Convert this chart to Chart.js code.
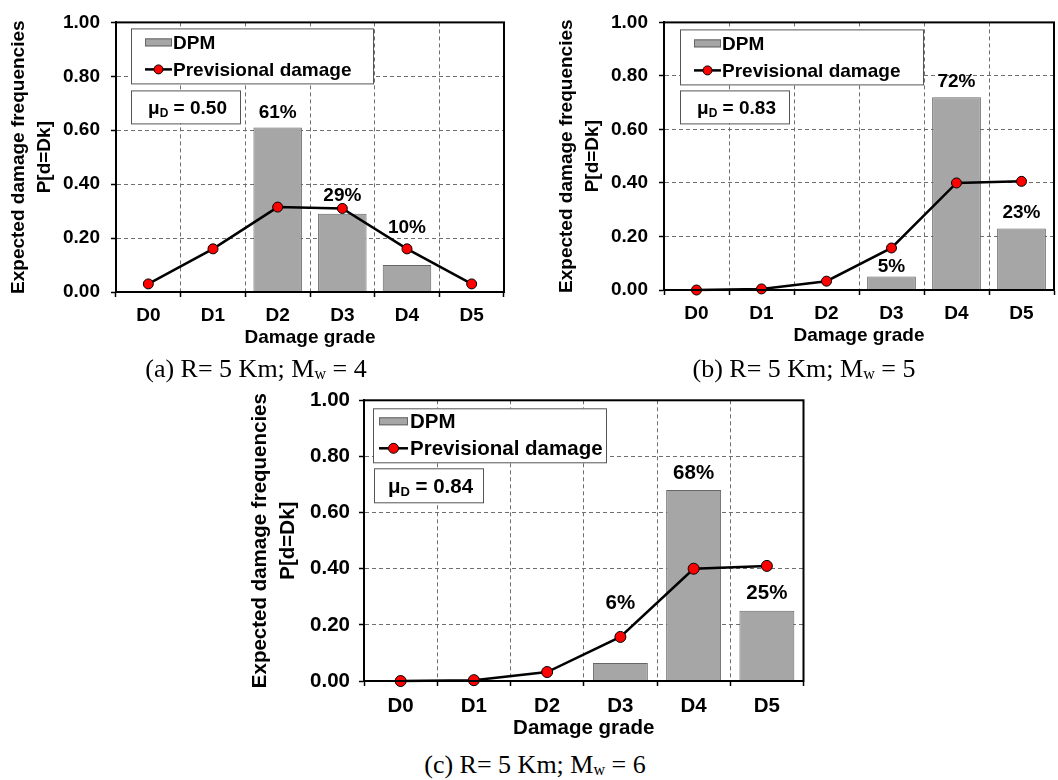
<!DOCTYPE html>
<html lang="en">
<head>
<meta charset="utf-8">
<title>Expected damage frequencies</title>
<script src="https://cdn.jsdelivr.net/npm/chart.js@4.4.1/dist/chart.umd.min.js"></script>
<style>
    html, body { margin: 0; padding: 0; background: #fff; }
    body { position: relative; width: 1058px; height: 780px; overflow: hidden; }
    canvas { position: absolute; }
    .caption {
        position: absolute;
        font-family: "Liberation Serif", "Times New Roman", serif;
        font-size: 26px;
        color: #000;
        white-space: nowrap;
        transform: translate(-50%, -50%);
    }
    .caption sub { font-size: 0.62em; vertical-align: -0.12em; line-height: 0; }
</style>
</head>
<body>
<canvas id="chartA" width="510" height="352" style="left:0;top:0"></canvas>
<canvas id="chartB" width="512" height="350" style="left:548px;top:0"></canvas>
<canvas id="chartC" width="570" height="365" style="left:240px;top:379px"></canvas>
<div class="caption" style="left:256px;top:369px">(a) R= 5 Km; M<sub>w</sub> = 4</div>
<div class="caption" style="left:804px;top:369px">(b) R= 5 Km; M<sub>w</sub> = 5</div>
<div class="caption" style="left:535px;top:765px">(c) R= 5 Km; M<sub>w</sub> = 6</div>

<script>
// ---- data ----
const grades = ['D0', 'D1', 'D2', 'D3', 'D4', 'D5'];
const yTickValues = [0.0, 0.2, 0.4, 0.6, 0.8, 1.0];

// (a) R = 5 km, Mw = 4
const dpmA = [null, null, 0.61, 0.29, 0.10, null];
const previsionalA = [0.03, 0.16, 0.315, 0.31, 0.16, 0.03];
const muA = 0.50;

// (b) R = 5 km, Mw = 5
const dpmB = [null, null, null, 0.05, 0.72, 0.23];
const previsionalB = [0.0, 0.004, 0.033, 0.157, 0.40, 0.406];
const muB = 0.83;

// (c) R = 5 km, Mw = 6
const dpmC = [null, null, null, 0.064, 0.68, 0.25];
const previsionalC = [0.0, 0.003, 0.032, 0.157, 0.40, 0.41];
const muC = 0.84;

const FONT = '"Liberation Sans", Arial, sans-serif';
const GRID = '#6e6e6e';

// Draws the frame, the boxed legend, the mu_D box and the % labels
const panelDecor = {
    id: 'panelDecor',
    afterDraw(chart, args, opts) {
        const ctx = chart.ctx;
        const area = chart.chartArea;
        const fs = opts.fontSize;
        ctx.save();

        // percentages above the DPM bars
        const barIndex = chart.data.datasets.findIndex(d => d.type === 'bar');
        const barMeta = chart.getDatasetMeta(barIndex);
        const barData = chart.data.datasets[barIndex].data;
        ctx.fillStyle = '#000';
        ctx.font = `bold ${fs}px ${FONT}`;
        ctx.textAlign = 'center';
        ctx.textBaseline = 'middle';
        barMeta.data.forEach((bar, i) => {
            if (barData[i] == null) return;
            const lift = opts.labelLift[i] || 16;
            ctx.fillText(Math.round(barData[i] * 100) + '%', bar.x, bar.y - lift);
        });

        // plot frame
        ctx.strokeStyle = '#000';
        ctx.lineWidth = 2;
        ctx.strokeRect(area.left, area.top, area.right - area.left, area.bottom - area.top);

        // legend box
        const lg = opts.legend;
        const lx = area.left + lg.x;
        const ly = area.top + lg.y;
        ctx.fillStyle = '#fff';
        ctx.fillRect(lx, ly, lg.w, lg.h);
        ctx.strokeStyle = '#555';
        ctx.lineWidth = 1;
        ctx.strokeRect(lx + 0.5, ly + 0.5, lg.w, lg.h);

        ctx.textAlign = 'left';
        ctx.font = `bold ${fs}px ${FONT}`;
        chart.data.datasets.forEach((ds, k) => {
            const rowY = ly + lg.rows[k];
            const sx = lx + lg.swatchX;
            if (ds.type === 'bar') {
                ctx.fillStyle = ds.backgroundColor;
                ctx.fillRect(sx, rowY - 4, lg.swatchW, 8);
                ctx.strokeStyle = ds.borderColor;
                ctx.lineWidth = 1;
                ctx.strokeRect(sx + 0.5, rowY - 3.5, lg.swatchW - 1, 7);
            } else {
                ctx.strokeStyle = ds.borderColor;
                ctx.lineWidth = ds.borderWidth;
                ctx.beginPath();
                ctx.moveTo(sx, rowY);
                ctx.lineTo(sx + lg.swatchW, rowY);
                ctx.stroke();
                ctx.beginPath();
                ctx.arc(sx + lg.swatchW / 2, rowY, ds.pointRadius - 0.5, 0, Math.PI * 2);
                ctx.fillStyle = ds.pointBackgroundColor;
                ctx.fill();
                ctx.lineWidth = 1;
                ctx.strokeStyle = ds.pointBorderColor;
                ctx.stroke();
            }
            ctx.fillStyle = '#000';
            ctx.fillText(ds.label, lx + lg.textX, rowY + 1);
        });

        // mu_D box
        const mb = opts.muBox;
        const mx = area.left + mb.x;
        const my = area.top + mb.y;
        ctx.fillStyle = '#fff';
        ctx.fillRect(mx, my, mb.w, mb.h);
        ctx.strokeStyle = '#555';
        ctx.lineWidth = 1;
        ctx.strokeRect(mx + 0.5, my + 0.5, mb.w, mb.h);

        const rest = ' = ' + opts.mu.toFixed(2);
        const mainFont = `bold ${fs}px ${FONT}`;
        const subFont = `bold ${Math.round(fs * 0.62)}px ${FONT}`;
        ctx.font = mainFont;
        const wMu = ctx.measureText('μ').width;
        const wRest = ctx.measureText(rest).width;
        ctx.font = subFont;
        const wSub = ctx.measureText('D').width;
        let tx = mx + (mb.w - (wMu + wSub + wRest)) / 2 + 2;
        const base = my + mb.h / 2 + fs * 0.36;
        ctx.fillStyle = '#000';
        ctx.textBaseline = 'alphabetic';
        ctx.font = mainFont;
        ctx.fillText('μ', tx, base);
        tx += wMu;
        ctx.font = subFont;
        ctx.fillText('D', tx, base + fs * 0.18);
        tx += wSub;
        ctx.font = mainFont;
        ctx.fillText(rest, tx, base);

        ctx.restore();
    }
};

function buildPanel(canvasId, dpm, previsional, mu, p) {
    const tickFont = { family: FONT, weight: 'bold', size: p.fontSize };
    new Chart(document.getElementById(canvasId), {
        type: 'bar',
        data: {
            labels: grades,
            datasets: [{
                type: 'bar',
                label: 'DPM',
                data: dpm,
                backgroundColor: '#a6a6a6',
                borderColor: '#666',
                borderWidth: 1,
                barPercentage: 0.75,
                categoryPercentage: 1.0,
                order: 2
            }, {
                type: 'line',
                label: 'Previsional damage',
                data: previsional,
                borderColor: '#000',
                borderWidth: 2.5,
                tension: 0,
                pointBackgroundColor: '#ff0000',
                pointBorderColor: '#000',
                pointBorderWidth: 1,
                pointRadius: p.pointRadius,
                clip: false,
                order: 1
            }]
        },
        options: {
            responsive: false,
            devicePixelRatio: 1,
            animation: false,
            layout: { padding: p.padding },
            plugins: {
                legend: { display: false },
                tooltip: { enabled: false },
                panelDecor: {
                    fontSize: p.fontSize,
                    mu: mu,
                    legend: p.legend,
                    muBox: p.muBox,
                    labelLift: p.labelLift
                }
            },
            scales: {
                x: {
                    grid: { offset: true, color: GRID, tickLength: 5, tickColor: '#000', tickWidth: 1.5 },
                    border: { color: '#000', width: 2, dash: [4, 3] },
                    ticks: { color: '#000', font: tickFont, padding: p.xTickPad },
                    title: {
                        display: true,
                        text: 'Damage grade',
                        color: '#000',
                        font: tickFont,
                        padding: { top: 0, bottom: p.xTitlePad }
                    },
                    afterFit: s => { s.height = p.xAxisHeight; }
                },
                y: {
                    min: 0,
                    max: 1,
                    grid: { color: GRID, tickLength: 5, tickColor: '#000', tickWidth: 1.5 },
                    border: { color: '#000', width: 2, dash: [4, 3] },
                    ticks: {
                        color: '#000',
                        font: tickFont,
                        padding: p.yTickPad,
                        callback: v => Number(v).toFixed(2)
                    },
                    afterBuildTicks: s => { s.ticks = yTickValues.map(v => ({ value: v })); },
                    title: {
                        display: true,
                        text: ['Expected damage frequencies', 'P[d=Dk]'],
                        color: '#000',
                        font: { family: FONT, weight: 'bold', size: p.fontSize, lineHeight: p.titleLine },
                        padding: { top: p.yTitlePad, bottom: 0 }
                    },
                    afterFit: s => { s.width = p.yAxisWidth; }
                }
            }
        },
        plugins: [panelDecor]
    });
}

buildPanel('chartA', dpmA, previsionalA, muA, {
    fontSize: 19, pointRadius: 5, titleLine: 1.37,
    padding: { top: 15, right: 3, bottom: 0, left: 0 },
    yAxisWidth: 116, xAxisHeight: 60,
    xTickPad: 7, xTitlePad: 3, yTickPad: 11, yTitlePad: 6,
    legend: { x: 15, y: 6, w: 242, h: 55, swatchX: 14, swatchW: 27, textX: 42, rows: [14, 41] },
    muBox: { x: 15, y: 68, w: 109, h: 33 },
    labelLift: [16, 16, 15, 18, 37, 16]
});

buildPanel('chartB', dpmB, previsionalB, muB, {
    fontSize: 19, pointRadius: 5, titleLine: 1.37,
    padding: { top: 15, right: 0, bottom: 0, left: 0 },
    yAxisWidth: 116, xAxisHeight: 60,
    xTickPad: 7, xTitlePad: 3, yTickPad: 11, yTitlePad: 6,
    legend: { x: 16, y: 7, w: 243, h: 55, swatchX: 14, swatchW: 27, textX: 42, rows: [14, 41] },
    muBox: { x: 16, y: 68, w: 109, h: 33 },
    labelLift: [16, 16, 16, 10, 16, 16]
});

buildPanel('chartC', dpmC, previsionalC, muC, {
    fontSize: 20.5, pointRadius: 5.5, titleLine: 1.37,
    padding: { top: 15, right: 2, bottom: 0, left: 0 },
    yAxisWidth: 124, xAxisHeight: 63,
    xTickPad: 8, xTitlePad: 3, yTickPad: 9, yTitlePad: 6,
    legend: { x: 9, y: 8, w: 233, h: 54, swatchX: 6, swatchW: 29, textX: 37, rows: [13, 40] },
    muBox: { x: 10, y: 68, w: 109, h: 34 },
    labelLift: [17, 17, 17, 60, 17, 17]
});
</script>
</body>
</html>
